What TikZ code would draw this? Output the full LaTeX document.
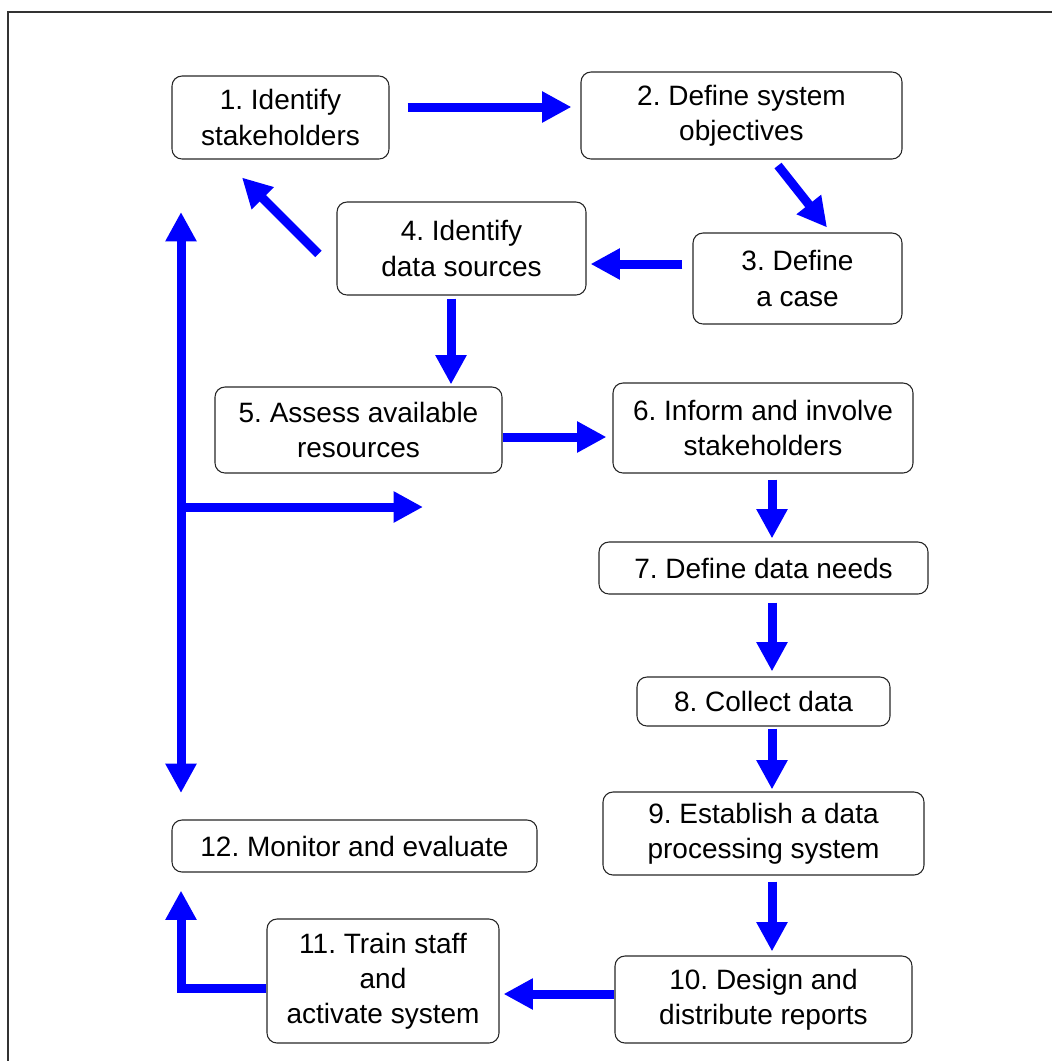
\documentclass[tikz,border=0pt]{standalone}
\usepackage{fontspec}
\setmainfont{Liberation Sans}
\usetikzlibrary{arrows.meta,calc}
\frenchspacing
\begin{document}
\begin{tikzpicture}[x=0.75pt,y=-0.75pt,
  box/.style={draw=black!85, line width=0.8pt, rounded corners=7.5pt, align=center,
    font=\fontsize{21}{26.3}\selectfont, inner sep=0pt},
  arr/.style={draw=blue, line width=6.75pt, -{Triangle[length=22pt,width=22pt]}},
  darr/.style={draw=blue, line width=6.75pt, {Triangle[length=22pt,width=22pt]}-{Triangle[length=22pt,width=22pt]}}]
\useasboundingbox (0,0) rectangle (1052,1061);
\draw[black!80, line width=0.9pt] (8,1061) -- (8,12) -- (1052,12);

\node[box, minimum width=162.75pt, minimum height=62.25pt] (n1) at (280.5,117.5) {1. Identify\\stakeholders};
\node[box, minimum width=240.75pt, minimum height=65.25pt] (n2) at (741.5,115.5) {2. Define system\\objectives};
\node[box, minimum width=156.75pt, minimum height=68.25pt] (n3) at (797.5,278.5) {3. Define\\a case};
\node[box, minimum width=186.75pt, minimum height=69.75pt] (n4) at (461.5,248.5) {4. Identify\\data sources};
\node[box, minimum width=215.25pt, minimum height=64.5pt] (n5) at (358.5,430) {5. Assess available\\resources};
\node[box, minimum width=225pt, minimum height=67.5pt] (n6) at (763,428) {6. Inform and involve\\stakeholders};
\node[box, minimum width=246.75pt, minimum height=39pt] (n7) at (763.5,568) {7. Define data needs};
\node[box, minimum width=189.75pt, minimum height=36.75pt] (n8) at (763.5,701.5) {8. Collect data};
\node[box, minimum width=240.75pt, minimum height=62.25pt] (n9) at (763.5,833.5) {9. Establish a data\\processing system};
\node[box, minimum width=222.75pt, minimum height=65.25pt] (n10) at (763.5,999.5) {10. Design and\\distribute reports};
\node[box, minimum width=174pt, minimum height=93pt] (n11) at (383,981) {11. Train staff\\and\\activate system};
\node[box, minimum width=273.75pt, minimum height=39pt] (n12) at (354.5,846) {12. Monitor and evaluate};

\coordinate (vtop) at (181,212);
\coordinate (vbot) at (181,793);
\coordinate (branch) at (181,507);
\coordinate (branchend) at (423,507);

\draw[arr] ($(n1.east)+(18,-10.5)$) -- ($(n2.west)+(-9,-8.5)$);
\draw[arr] ($(n2.south)+(36.5,6)$) -- ($(n3.north)+(29.5,-5)$);
\draw[arr] ($(n3.west)+(-10,-14.5)$) -- ($(n4.east)+(4,15.5)$);
\draw[arr] ($(n4.west)+(-18,5.5)$) -- ($(n1.south)+(-38.5,18)$);
\draw[arr] ($(n4.south)+(-10.5,3)$) -- ($(n5.north)+(92.5,-2)$);
\draw[arr] ($(n5.east)+(0,7)$) -- ($(n6.west)+(-6,9)$);
\draw[arr] ($(n6.south)+(9,6)$) -- ($(n7.north)+(8.5,-3)$);
\draw[arr] ($(n7.south)+(8.5,8)$) -- ($(n8.north)+(8.5,-5)$);
\draw[arr] ($(n8.south)+(8.5,2)$) -- ($(n9.north)+(8.5,-2)$);
\draw[arr] ($(n9.south)+(8.5,6)$) -- ($(n10.north)+(8.5,-4)$);
\draw[arr] ($(n10.west)+(0,-5.5)$) -- ($(n11.east)+(4,13)$);
\draw[arr] ($(n11.west)+(0,7)$) -| ($(n12.south)+(-173.5,18)$);
\draw[darr] (vtop) -- (vbot);
\draw[arr] (branch) -- (branchend);
\end{tikzpicture}
\end{document}
